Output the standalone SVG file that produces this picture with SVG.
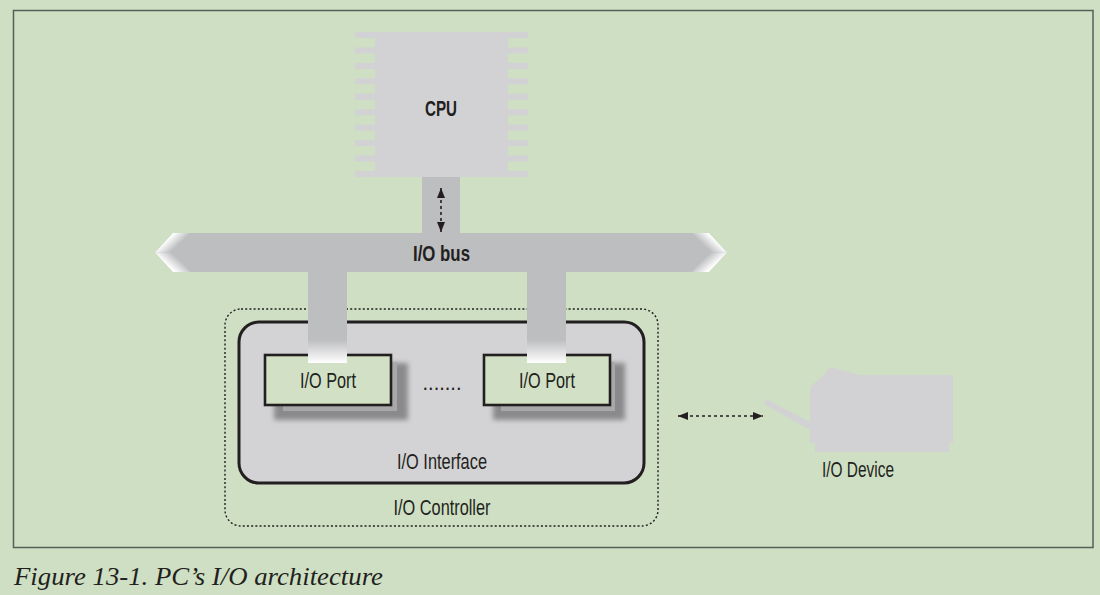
<svg xmlns="http://www.w3.org/2000/svg" width="1100" height="595" viewBox="0 0 1100 595">
<defs>
<style>
.t{font-family:"Liberation Sans",Arial,sans-serif;fill:#231f20;font-size:22px;text-anchor:middle}
.b{font-weight:bold;font-size:22.5px}
.cap{font-family:"Liberation Serif","Times New Roman",serif;font-style:italic;font-size:25.5px;fill:#231f20}
.bus{fill:#bdbec0}
.pin{fill:#d2d2d4}
.dash{stroke:#231f20;stroke-width:1.6;stroke-dasharray:3 3;fill:none}
</style>
<linearGradient id="colg" x1="0" y1="340" x2="0" y2="363" gradientUnits="userSpaceOnUse">
<stop offset="0" stop-color="#bdbec0"/><stop offset="1" stop-color="#ffffff"/>
</linearGradient>
<linearGradient id="tipUL" x1="164" y1="242.5" x2="172" y2="251" gradientUnits="userSpaceOnUse">
<stop offset="0" stop-color="#ffffff"/><stop offset="1" stop-color="#bdbec0"/>
</linearGradient>
<linearGradient id="tipLL" x1="164" y1="262" x2="172" y2="253" gradientUnits="userSpaceOnUse">
<stop offset="0" stop-color="#ffffff"/><stop offset="1" stop-color="#bdbec0"/>
</linearGradient>
<linearGradient id="tipUR" x1="718" y1="242.5" x2="710" y2="251" gradientUnits="userSpaceOnUse">
<stop offset="0" stop-color="#ffffff"/><stop offset="1" stop-color="#bdbec0"/>
</linearGradient>
<linearGradient id="tipLR" x1="718" y1="262" x2="710" y2="253" gradientUnits="userSpaceOnUse">
<stop offset="0" stop-color="#ffffff"/><stop offset="1" stop-color="#bdbec0"/>
</linearGradient>
<filter id="blur" x="-20%" y="-20%" width="140%" height="140%"><feGaussianBlur stdDeviation="2.4"/></filter>
<marker id="ah" viewBox="0 0 10 8" refX="10" refY="4" markerWidth="10" markerHeight="8" markerUnits="userSpaceOnUse" orient="auto-start-reverse">
<path d="M0,0 L10,4 L0,8 Z" fill="#231f20"/>
</marker>
</defs>
<rect width="1100" height="595" fill="#cedfc3"/>
<rect x="13.5" y="10.5" width="1079.5" height="537" fill="none" stroke="#56605a" stroke-width="1.5"/>

<g id="cpu">
<rect x="375" y="32" width="133" height="145" class="pin"/>
<g class="pin">
<rect x="355" y="32" width="20" height="6"/><rect x="508" y="32" width="20" height="6"/>
<rect x="355" y="47.4" width="20" height="6"/><rect x="508" y="47.4" width="20" height="6"/>
<rect x="355" y="62.9" width="20" height="6"/><rect x="508" y="62.9" width="20" height="6"/>
<rect x="355" y="78.3" width="20" height="6"/><rect x="508" y="78.3" width="20" height="6"/>
<rect x="355" y="93.8" width="20" height="6"/><rect x="508" y="93.8" width="20" height="6"/>
<rect x="355" y="109.2" width="20" height="6"/><rect x="508" y="109.2" width="20" height="6"/>
<rect x="355" y="124.6" width="20" height="6"/><rect x="508" y="124.6" width="20" height="6"/>
<rect x="355" y="140.1" width="20" height="6"/><rect x="508" y="140.1" width="20" height="6"/>
<rect x="355" y="155.5" width="20" height="6"/><rect x="508" y="155.5" width="20" height="6"/>
<rect x="355" y="171" width="20" height="6"/><rect x="508" y="171" width="20" height="6"/>
</g>
<text class="t b" x="441" y="116" textLength="32" lengthAdjust="spacingAndGlyphs">CPU</text>
</g>

<g id="controller">
<rect x="225" y="309" width="433" height="217" rx="16" fill="none" stroke="#231f20" stroke-width="1.4" stroke-dasharray="2 2.2"/>
<text class="t" x="442" y="515" textLength="97" lengthAdjust="spacingAndGlyphs">I/O Controller</text>
</g>

<g id="interface">
<rect x="239" y="322" width="405" height="161" rx="20" fill="#d3d3d5" stroke="#231f20" stroke-width="3"/>
<text class="t" x="442" y="469" textLength="90" lengthAdjust="spacingAndGlyphs">I/O Interface</text>
<text class="t" x="442" y="390" textLength="39" lengthAdjust="spacingAndGlyphs">.......</text>
</g>

<g id="port1">
<rect x="274" y="363" width="134" height="57" fill="#8a8a8d" filter="url(#blur)"/>
<rect x="283" y="362" width="114" height="49" fill="#a8a8aa"/>
<rect x="265" y="355" width="126" height="50" fill="#d2e1c6" stroke="#231f20" stroke-width="2.6"/>
<text class="t" x="328" y="388" textLength="56" lengthAdjust="spacingAndGlyphs">I/O Port</text>
</g>

<g id="port2">
<rect x="493" y="363" width="132" height="57" fill="#8a8a8d" filter="url(#blur)"/>
<rect x="501" y="362" width="114" height="49" fill="#a8a8aa"/>
<rect x="484" y="355" width="126" height="50" fill="#d2e1c6" stroke="#231f20" stroke-width="2.6"/>
<text class="t" x="547" y="388" textLength="56" lengthAdjust="spacingAndGlyphs">I/O Port</text>
</g>

<g id="bus">
<polygon class="bus" points="173,233 709,233 727,252.5 709,272 173,272 155,252.5"/>
<polygon points="155,252.5 173,233 190,233 172,252.5" fill="url(#tipUL)"/>
<polygon points="155,252.5 172,252.5 190,272 173,272" fill="url(#tipLL)"/>
<polygon points="727,252.5 709,233 692,233 710,252.5" fill="url(#tipUR)"/>
<polygon points="727,252.5 710,252.5 692,272 709,272" fill="url(#tipLR)"/>
<text class="t b" x="441.5" y="261" textLength="57" lengthAdjust="spacingAndGlyphs">I/O bus</text>
</g>

<g id="device">
<polygon class="pin" points="810,443 810,387 823,376 830,367 860,375 953,375 953,443 949,443 949,452 815,452 815,443"/>
<polygon class="pin" points="766,399 812,423 812,431 764,404"/>
<text class="t" x="858" y="477" textLength="72" lengthAdjust="spacingAndGlyphs">I/O Device</text>
</g>

<g id="connectors">
<rect class="bus" x="422" y="177" width="38" height="56"/>
<rect x="308" y="272" width="39" height="91" fill="url(#colg)"/>
<rect x="527" y="272" width="39" height="91" fill="url(#colg)"/>
<line class="dash" x1="441" y1="188" x2="441" y2="232" marker-start="url(#ah)" marker-end="url(#ah)" stroke-dasharray="2.5 2.5"/>
<line class="dash" x1="678" y1="416" x2="763" y2="416" marker-start="url(#ah)" marker-end="url(#ah)"/>
</g>

<text class="cap" x="14" y="585" textLength="369" lengthAdjust="spacingAndGlyphs">Figure 13-1. PC’s I/O architecture</text>
</svg>
